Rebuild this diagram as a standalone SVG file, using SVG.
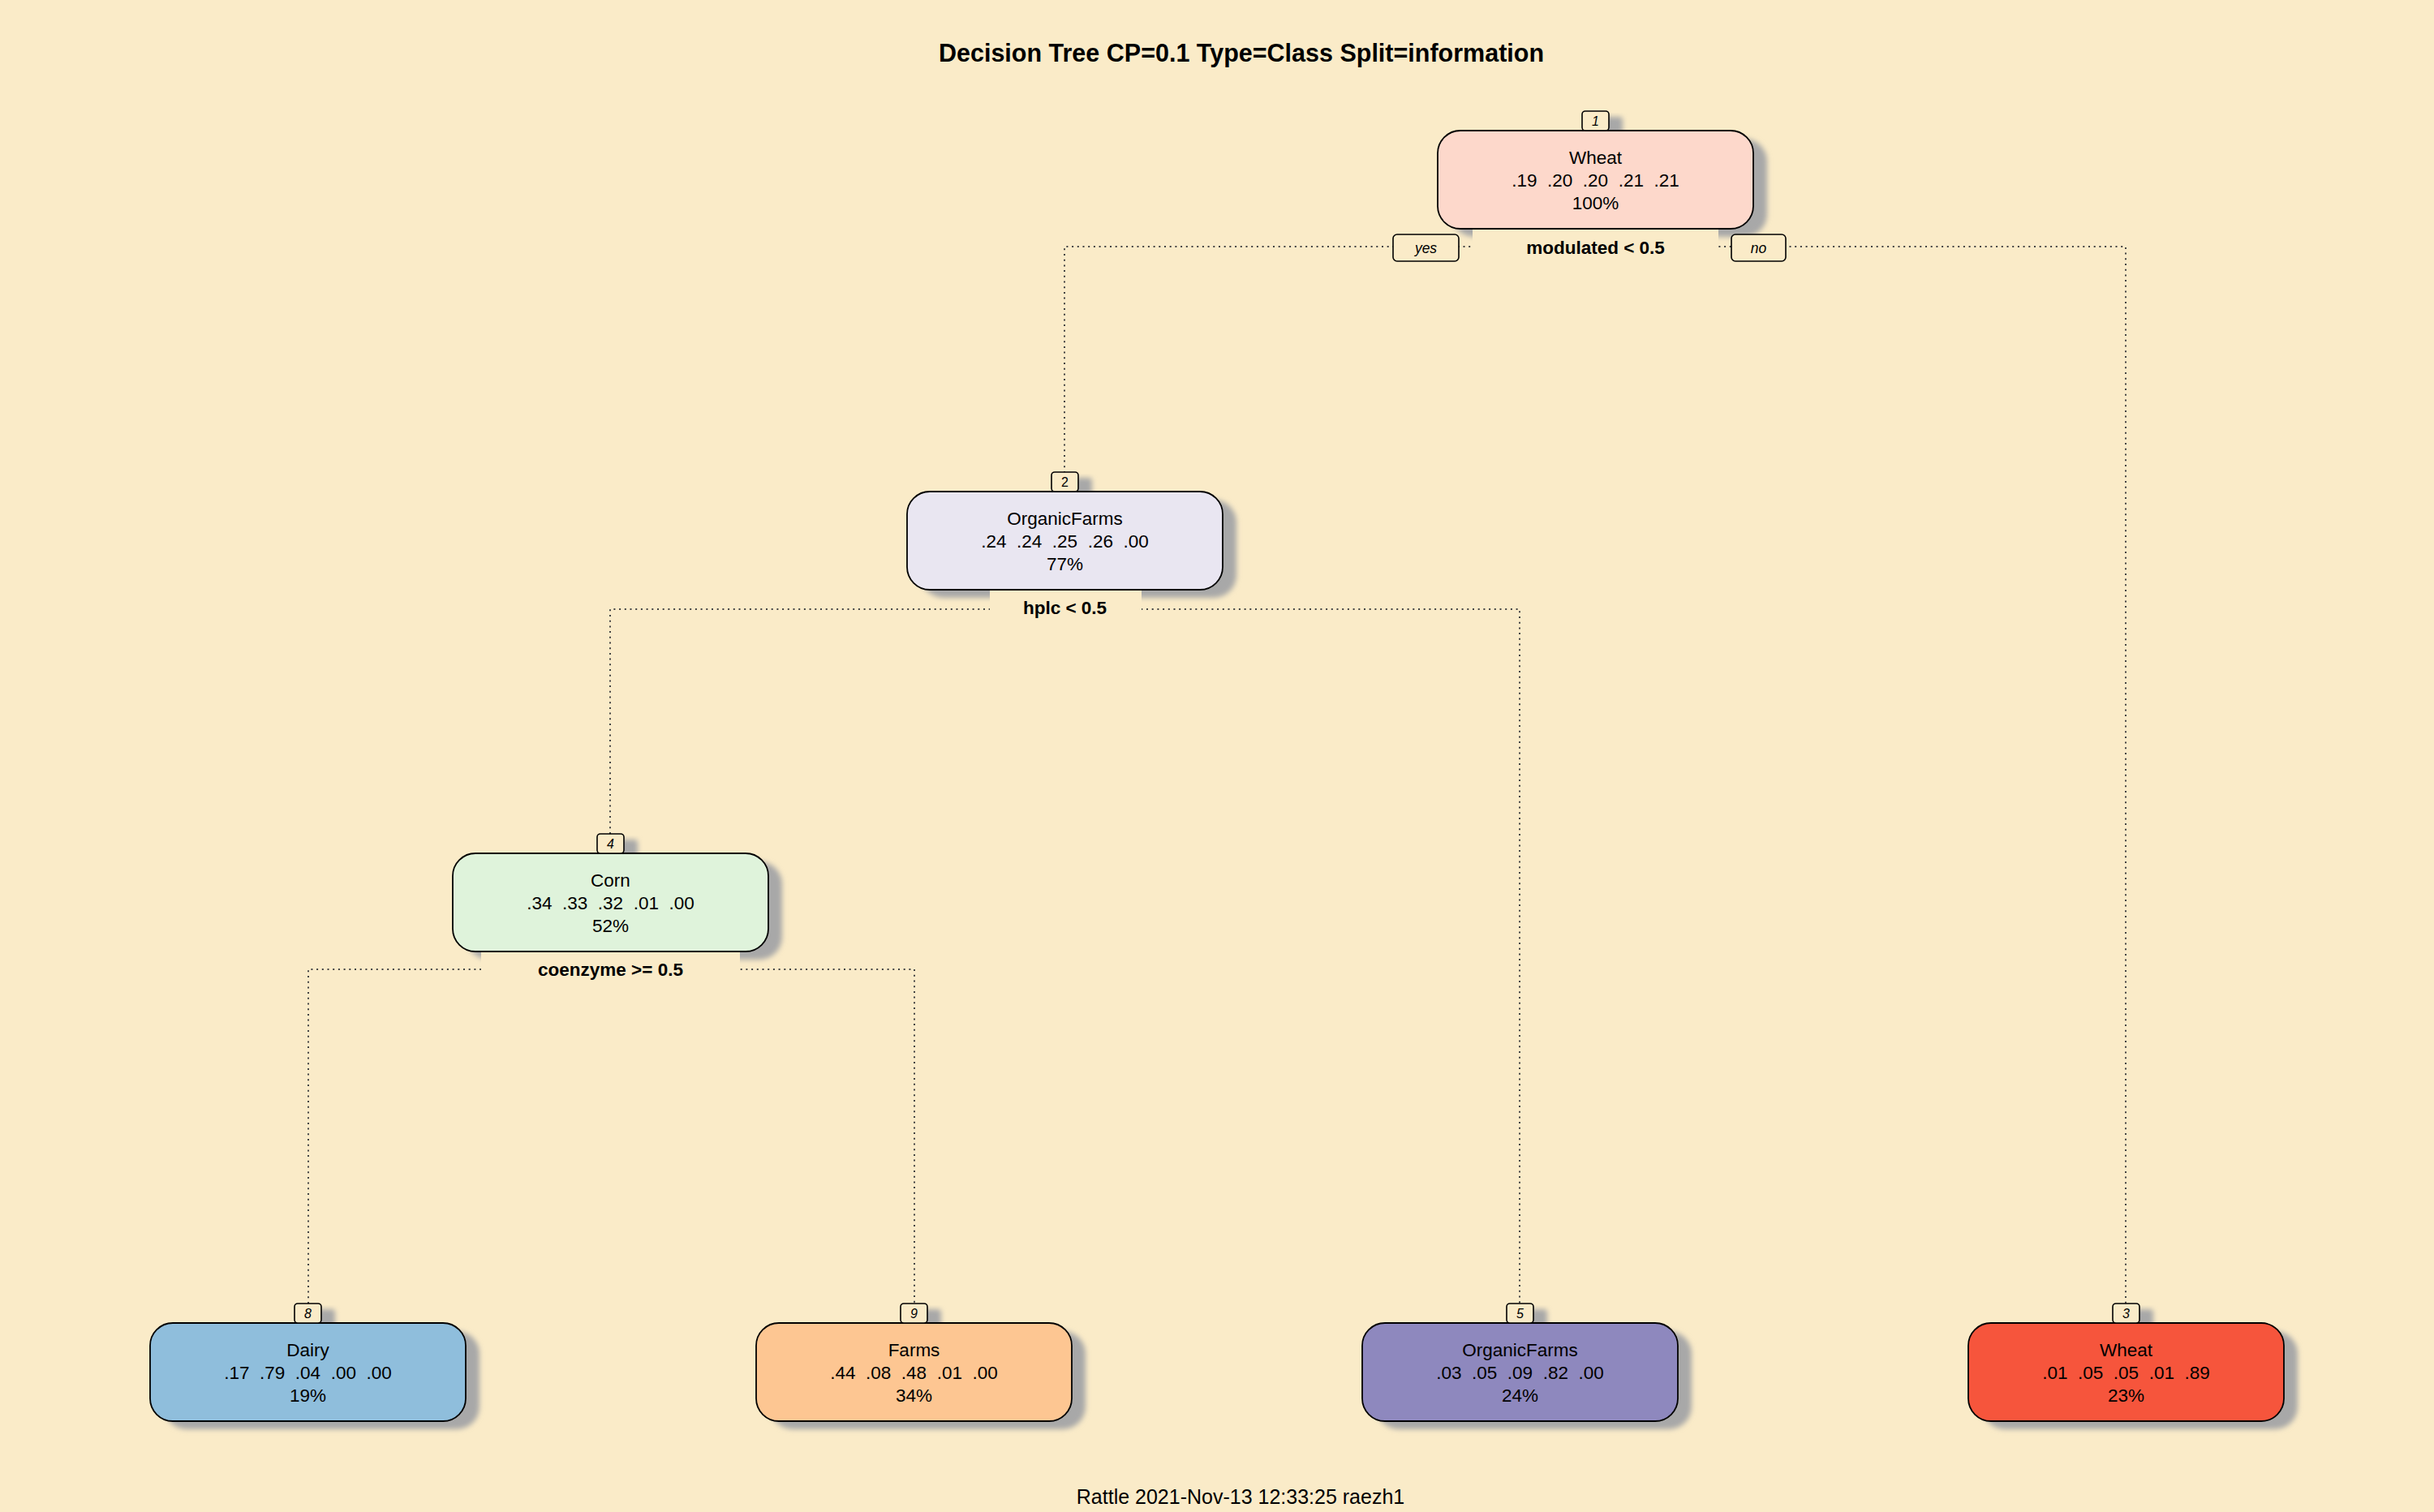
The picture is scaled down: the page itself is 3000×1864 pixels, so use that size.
<svg xmlns="http://www.w3.org/2000/svg" width="3000" height="1864" viewBox="0 0 3000 1864" xml:space="preserve">
<defs>
<filter id="blur" x="-20%" y="-20%" width="140%" height="140%"><feGaussianBlur stdDeviation="3"/></filter>
<style>
text{font-family:"Liberation Sans",Arial,sans-serif;white-space:pre;text-anchor:middle;fill:#000}
.t{font-size:22.5px}
.sp{font-size:22.5px;font-weight:bold}
.num{font-size:16px;font-style:italic}
.yn{font-size:17.5px;font-style:italic}
.title{font-size:30.5px;font-weight:bold}
.foot{font-size:25px}
.box{stroke:#000;stroke-width:1.8}
.nb{fill:#FAEBC8;stroke:#000;stroke-width:1.6}
.sh{fill:#a8a8a8;filter:url(#blur)}
.bg{fill:#FAEBC8}
.con{fill:none;stroke:#444;stroke-width:2;stroke-dasharray:2 4.7}
</style>
</defs>
<rect x="0" y="0" width="3000" height="1864" fill="#FAEBC8"/>
<text class="title" x="1530" y="76">Decision Tree CP=0.1 Type=Class Split=information</text>
<text class="foot" x="1529" y="1854">Rattle 2021-Nov-13 12:33:25 raezh1</text>

<g id="connectors">
<path class="con" d="M1312,583 V304 H2620 V1607"/>
<path class="con" d="M752,1028 V751 H1873 V1607"/>
<path class="con" d="M380,1607 V1195 H1127 V1607"/>
</g>

<g id="node1">
<rect class="sh" x="1967" y="144" width="33" height="24" rx="4"/>
<rect class="sh" x="1789" y="171" width="389" height="121" rx="28"/>
<rect class="bg" x="1815" y="283" width="303" height="42"/>
<rect class="box" x="1772" y="161" width="389" height="121" rx="28" fill="#FDD8CB"/>
<rect class="nb" x="1950" y="137" width="33" height="24" rx="4"/>
<text class="num" x="1966.5" y="155">1</text>
<text class="t" x="1966.5" y="202">Wheat</text>
<text class="t" x="1966.5" y="230">.19  .20  .20  .21  .21</text>
<text class="t" x="1966.5" y="258">100%</text>
<text class="sp" x="1966.5" y="313">modulated &lt; 0.5</text>
</g>

<g id="edge-labels">
<rect class="nb" x="1717" y="289" width="81" height="33" rx="5"/>
<text class="yn" x="1757.5" y="312">yes</text>
<rect class="nb" x="2134" y="289" width="67" height="33" rx="5"/>
<text class="yn" x="2167.5" y="312">no</text>
</g>

<g id="node2">
<rect class="sh" x="1313" y="589" width="33" height="24" rx="4"/>
<rect class="sh" x="1135" y="616" width="389" height="121" rx="28"/>
<rect class="bg" x="1220" y="728" width="187" height="42"/>
<rect class="box" x="1118" y="606" width="389" height="121" rx="28" fill="#E9E6F1"/>
<rect class="nb" x="1296" y="582" width="33" height="24" rx="4"/>
<text class="num" x="1312.5" y="600" style="font-style:normal">2</text>
<text class="t" x="1312.5" y="647">OrganicFarms</text>
<text class="t" x="1312.5" y="675">.24  .24  .25  .26  .00</text>
<text class="t" x="1312.5" y="703">77%</text>
<text class="sp" x="1312.5" y="757">hplc &lt; 0.5</text>
</g>

<g id="node4">
<rect class="sh" x="753" y="1035" width="33" height="24" rx="4"/>
<rect class="sh" x="575" y="1062" width="389" height="121" rx="28"/>
<rect class="bg" x="593" y="1174" width="319" height="42"/>
<rect class="box" x="558" y="1052" width="389" height="121" rx="28" fill="#DFF3DB"/>
<rect class="nb" x="736" y="1028" width="33" height="24" rx="4"/>
<text class="num" x="752.5" y="1046">4</text>
<text class="t" x="752.5" y="1093">Corn</text>
<text class="t" x="752.5" y="1121">.34  .33  .32  .01  .00</text>
<text class="t" x="752.5" y="1149">52%</text>
<text class="sp" x="752.5" y="1203">coenzyme &gt;= 0.5</text>
</g>

<g id="node8">
<rect class="sh" x="380" y="1614" width="33" height="24" rx="4"/>
<rect class="sh" x="202" y="1641" width="389" height="121" rx="28"/>
<rect class="box" x="185" y="1631" width="389" height="121" rx="28" fill="#8FBEDC"/>
<rect class="nb" x="363" y="1607" width="33" height="24" rx="4"/>
<text class="num" x="379.5" y="1625">8</text>
<text class="t" x="379.5" y="1672">Dairy</text>
<text class="t" x="379.5" y="1700">.17  .79  .04  .00  .00</text>
<text class="t" x="379.5" y="1728">19%</text>
</g>

<g id="node9">
<rect class="sh" x="1127" y="1614" width="33" height="24" rx="4"/>
<rect class="sh" x="949" y="1641" width="389" height="121" rx="28"/>
<rect class="box" x="932" y="1631" width="389" height="121" rx="28" fill="#FDC692"/>
<rect class="nb" x="1110" y="1607" width="33" height="24" rx="4"/>
<text class="num" x="1126.5" y="1625">9</text>
<text class="t" x="1126.5" y="1672">Farms</text>
<text class="t" x="1126.5" y="1700">.44  .08  .48  .01  .00</text>
<text class="t" x="1126.5" y="1728">34%</text>
</g>

<g id="node5">
<rect class="sh" x="1874" y="1614" width="33" height="24" rx="4"/>
<rect class="sh" x="1696" y="1641" width="389" height="121" rx="28"/>
<rect class="box" x="1679" y="1631" width="389" height="121" rx="28" fill="#8E88BE"/>
<rect class="nb" x="1857" y="1607" width="33" height="24" rx="4"/>
<text class="num" x="1873.5" y="1625">5</text>
<text class="t" x="1873.5" y="1672">OrganicFarms</text>
<text class="t" x="1873.5" y="1700">.03  .05  .09  .82  .00</text>
<text class="t" x="1873.5" y="1728">24%</text>
</g>

<g id="node3">
<rect class="sh" x="2621" y="1614" width="33" height="24" rx="4"/>
<rect class="sh" x="2443" y="1641" width="389" height="121" rx="28"/>
<rect class="box" x="2426" y="1631" width="389" height="121" rx="28" fill="#F6553C"/>
<rect class="nb" x="2604" y="1607" width="33" height="24" rx="4"/>
<text class="num" x="2620.5" y="1625">3</text>
<text class="t" x="2620.5" y="1672">Wheat</text>
<text class="t" x="2620.5" y="1700">.01  .05  .05  .01  .89</text>
<text class="t" x="2620.5" y="1728">23%</text>
</g>
</svg>
